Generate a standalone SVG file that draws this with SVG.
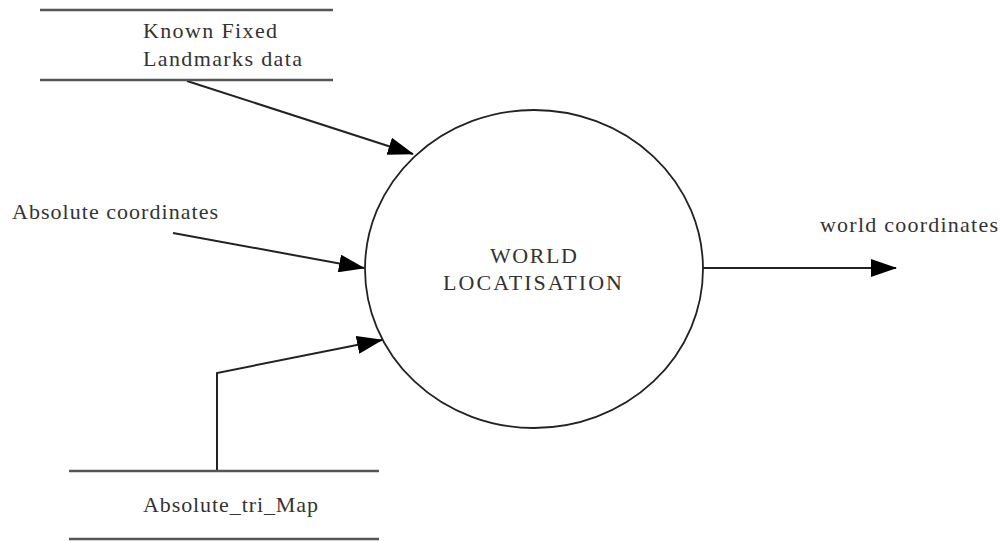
<svg xmlns="http://www.w3.org/2000/svg" width="1001" height="541" viewBox="0 0 1001 541">
<style>
text{font-family:'Liberation Serif','DejaVu Serif',serif;font-size:22px;fill:#333}
.store{stroke:#555;stroke-width:2.5;fill:none}
.edge{stroke:#222;stroke-width:2;fill:none}
.node{stroke:#222;stroke-width:1.8;fill:#fff}
</style>
<defs>
<marker id="ah" markerWidth="26" markerHeight="18" refX="25" refY="9" orient="auto" markerUnits="userSpaceOnUse">
<path d="M0,0 L26,9 L0,18 Z" fill="#000"/>
</marker>
</defs>
<rect width="1001" height="541" fill="#fff"/>
<g id="edges">
<line class="edge" x1="187" y1="81" x2="413" y2="154" marker-end="url(#ah)"/>
<line class="edge" x1="173" y1="233" x2="364" y2="268" marker-end="url(#ah)"/>
<polyline class="edge" points="217,470 217,373 382,340" marker-end="url(#ah)"/>
<line class="edge" x1="703" y1="268" x2="896" y2="268" marker-end="url(#ah)"/>
</g>
<g id="landmarks">
<line class="store" x1="40" y1="10" x2="333" y2="10"/>
<line class="store" x1="40" y1="80" x2="333" y2="80"/>
<text x="143" y="38" textLength="134" lengthAdjust="spacing">Known Fixed</text>
<text x="143" y="66" textLength="159" lengthAdjust="spacing">Landmarks data</text>
</g>
<g id="abs_coords">
<text x="12" y="219" textLength="206" lengthAdjust="spacing">Absolute coordinates</text>
</g>
<g id="tri_map">
<line class="store" x1="69" y1="471" x2="379" y2="471"/>
<line class="store" x1="69" y1="539" x2="379" y2="539"/>
<text x="143" y="512" textLength="175" lengthAdjust="spacing">Absolute_tri_Map</text>
</g>
<g id="world_loc">
<ellipse class="node" cx="534" cy="269" rx="169" ry="159"/>
<text x="490" y="263" textLength="87" lengthAdjust="spacing">WORLD</text>
<text x="443" y="290" textLength="179" lengthAdjust="spacing">LOCATISATION</text>
</g>
<g id="world_coords">
<text x="820" y="232" textLength="178" lengthAdjust="spacing">world coordinates</text>
</g>
</svg>
